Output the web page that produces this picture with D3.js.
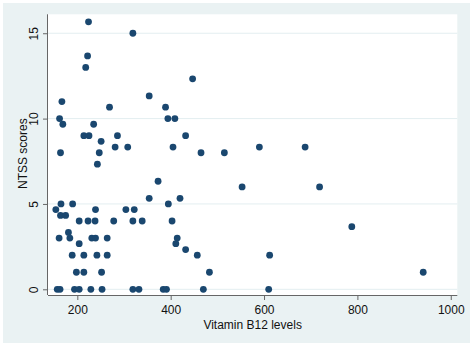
<!DOCTYPE html>
<html>
<head>
<meta charset="utf-8">
<script src="https://cdn.jsdelivr.net/npm/d3@7"></script>
<style>
  body { margin: 0; background: #fff; }
  svg { display: block; font-family: "Liberation Sans", Arial, sans-serif; }
</style>
</head>
<body>
<div id="chart"></div>
<script>
// B12 level and NTSS score for each patient
const b12 = [224, 319, 222, 218, 447, 167, 354, 269, 389, 162, 394, 409, 169, 235,
  214, 225, 286, 432, 251, 281, 308, 405, 590, 688, 164, 247, 465, 515, 243, 373,
  553, 719, 354, 420, 165, 190, 395, 154, 239, 304, 322, 164, 175, 204, 223, 238,
  278, 319, 339, 403, 788, 181, 161, 184, 231, 239, 264, 414, 204, 411, 432, 189,
  214, 242, 264, 457, 612, 198, 214, 252, 483, 941,
  157, 163, 194, 204, 229, 253, 319, 332, 384, 391, 470, 610]
const ntss = [15.67, 15, 13.67, 13, 12.33, 11, 11.33, 10.67, 10.67, 10, 10, 10, 9.67, 9.67,
  9, 9, 9, 9, 8.67, 8.33, 8.33, 8.33, 8.33, 8.33, 8, 8, 8, 8, 7.33, 6.33,
  6, 6, 5.33, 5.33, 5, 5, 5, 4.67, 4.67, 4.67, 4.67, 4.33, 4.33, 4, 4, 4,
  4, 4, 4, 4, 3.67, 3.33, 3, 3, 3, 3, 3, 3, 2.67, 2.67, 2.33, 2,
  2, 2, 2, 2, 2, 1, 1, 1, 1, 1,
  0, 0, 0, 0, 0, 0, 0, 0, 0, 0, 0, 0]
const xTicks = [200, 400, 600, 800, 1000]
const yTicks = [0, 5, 10, 15]

const W = 473, H = 346
const plot = {left: 48, right: 457.3, top: 14.3, bottom: 295}

let svg = d3.select("#chart").append("svg")
  .attr("width", W).attr("height", H)

// outer stata-ish background and white plot region
svg.append("rect").attr("x", 3).attr("y", 3).attr("width", W - 6).attr("height", H - 6)
  .attr("fill", "#eaf2f3")
svg.append("rect").attr("x", plot.left).attr("y", plot.top)
  .attr("width", plot.right - plot.left).attr("height", plot.bottom - plot.top)
  .attr("fill", "#fff")

let x = d3.scaleLinear().domain([137.2, 1014]).range([plot.left, plot.right])
let y = d3.scaleLinear().domain([-0.334, 16.11]).range([plot.bottom, plot.top])

// gridlines
svg.append("g").selectAll("line").data(yTicks).enter().append("line")
  .attr("x1", plot.left).attr("x2", plot.right)
  .attr("y1", d => y(d)).attr("y2", d => y(d))
  .attr("stroke", "#e3eef0").attr("stroke-width", 1)

// axes
let xAxis = svg.append("g")
  .attr("transform", "translate(0," + plot.bottom + ")")
  .call(d3.axisBottom(x).tickValues(xTicks).tickFormat(d3.format("d")).tickSize(5).tickPadding(5))
xAxis.select(".domain").attr("d", "M" + plot.left + ",0.5H" + plot.right)

let yAxis = svg.append("g")
  .attr("transform", "translate(" + plot.left + ",0)")
  .call(d3.axisLeft(y).tickValues(yTicks).tickSize(5).tickPadding(3))
yAxis.select(".domain").attr("d", "M-0.5," + plot.top + "V" + plot.bottom)

svg.selectAll(".domain").attr("stroke", "#666")
svg.selectAll(".tick line").attr("stroke", "#666")
svg.selectAll(".tick text").attr("fill", "#111").style("font-size", "12px")
  .style("font-family", "'Liberation Sans', Arial, sans-serif")

// stata draws y labels vertical
yAxis.selectAll(".tick text")
  .attr("x", null).attr("dy", null)
  .attr("text-anchor", "middle")
  .attr("transform", "translate(-10,0) rotate(-90)")

// points
svg.append("g").selectAll("circle")
  .data(b12.map((v, i) => [v, ntss[i]]))
  .enter().append("circle")
  .attr("cx", d => x(d[0]))
  .attr("cy", d => y(d[1]))
  .attr("r", 3.4)
  .attr("fill", "#1a476f")

// axis titles
svg.append("text").attr("x", (plot.left + plot.right) / 2).attr("y", 329)
  .attr("text-anchor", "middle").style("font-size", "12px").attr("fill", "#111")
  .text("Vitamin B12 levels")
svg.append("text").attr("transform", "translate(26.5," + ((plot.top + plot.bottom) / 2 - 1) + ")rotate(-90)")
  .attr("text-anchor", "middle").style("font-size", "12px").attr("fill", "#111")
  .text("NTSS scores")
</script>
</body>
</html>
